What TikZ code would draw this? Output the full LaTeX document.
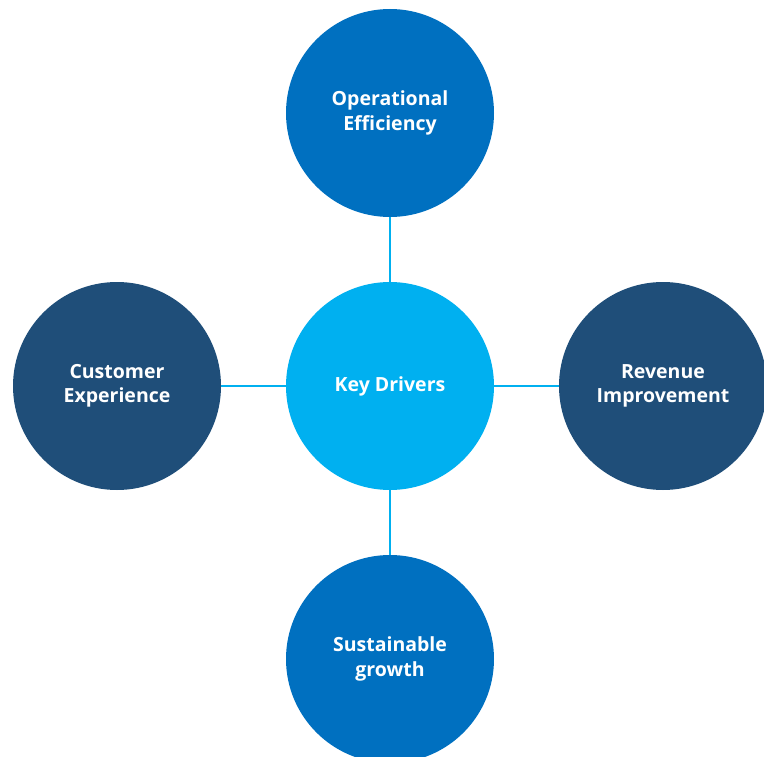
\documentclass[tikz,border=0pt]{standalone}
\usepackage{fontspec}
\setmainfont{Open Sans}
\begin{document}
\begin{tikzpicture}[x=1pt,y=-1pt,
  bubble/.style={circle,minimum size=208pt,inner sep=0pt,text=white,align=center,
    font=\fontsize{19.5}{24.5}\selectfont\bfseries},
  mid/.style={bubble,fill=keycyan},
  outerA/.style={bubble,fill=opblue},
  outerB/.style={bubble,fill=navyblue},
  link/.style={draw=keycyan,line width=2pt}]
\definecolor{keycyan}{HTML}{00B0F0}
\definecolor{opblue}{HTML}{0070C0}
\definecolor{navyblue}{HTML}{1F4E79}
\useasboundingbox (0,0) rectangle (764,757);
\clip (0,0) rectangle (764,757);
\node[mid] (kd) at (390,386) {Key Drivers};
\node[outerA] (op) at (390,113) {Operational\\Efficiency};
\node[outerA] (sg) at (390,659) {Sustainable\\growth};
\node[outerB] (ce) at (117,386) {Customer\\Experience};
\node[outerB] (ri) at (663,386) {Revenue\\Improvement};
\draw[link] (kd) -- (op);
\draw[link] (kd) -- (sg);
\draw[link] (kd) -- (ce);
\draw[link] (kd) -- (ri);
\end{tikzpicture}
\end{document}
